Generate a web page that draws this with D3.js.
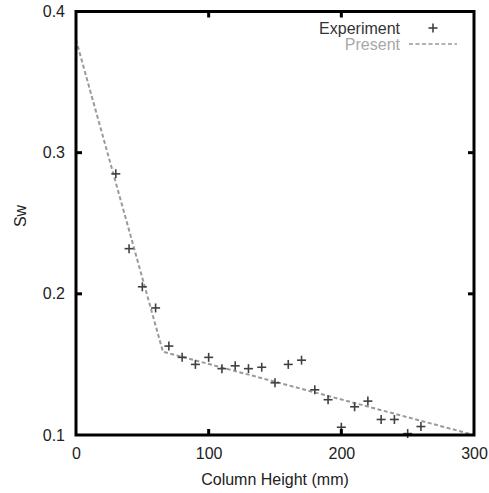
<!DOCTYPE html>
<html>
<head>
<meta charset="utf-8">
<script src="https://cdn.jsdelivr.net/npm/d3@7"></script>
<style>
  html, body { margin: 0; padding: 0; background: #fff; }
  svg { display: block; }
  text { font-family: "Liberation Sans", Arial, Helvetica, sans-serif; }
</style>
</head>
<body>
<svg id="chart" width="489" height="493"></svg>
<script>
// Experimental data: column height (mm) vs Sw
const expHeight = [30, 40, 50, 60, 70, 80, 90, 100, 110, 120, 130, 140, 150, 160, 170, 180, 190, 200, 210, 220, 230, 240, 250, 260];
const expSw     = [0.285, 0.232, 0.205, 0.190, 0.163, 0.155, 0.150, 0.155, 0.147, 0.149, 0.147, 0.148, 0.137, 0.150, 0.153, 0.132, 0.125, 0.1055, 0.120, 0.124, 0.111, 0.111, 0.101, 0.106];
// Present model (piecewise line)
const modelHeight = [0, 65.5, 300];
const modelSw     = [0.380, 0.159, 0.100];
// Ticks
const xTicks = [0, 100, 200, 300];
const yTicks = [0.1, 0.2, 0.3, 0.4];
const legendLabels = ["Experiment", "Present"];

const svg = d3.select("#chart");
const pLeft = 76, pRight = 474, pTop = 11.5, pBottom = 435;

const x = d3.scaleLinear().domain([0, 300]).range([pLeft, pRight]);
const y = d3.scaleLinear().domain([0.1, 0.4]).range([pBottom, pTop]);

const fontSize = 16;
const textColor = "#222";
const axisColor = "#000";

// Model line
const line = d3.line().x(d => x(d[0])).y(d => y(d[1]));
svg.append("path")
  .datum(modelHeight.map((h, i) => [h, modelSw[i]]))
  .attr("d", line)
  .attr("fill", "none")
  .attr("stroke", "#9a9a9a")
  .attr("stroke-width", 2)
  .attr("stroke-dasharray", "4,2.5");

// Experimental points (plus markers)
const pts = svg.append("g").attr("stroke", "#404040").attr("stroke-width", 1.6);
const s = 4.5;
expHeight.forEach((h, i) => {
  const cx = x(h), cy = y(expSw[i]);
  pts.append("line").attr("x1", cx - s).attr("x2", cx + s).attr("y1", cy).attr("y2", cy);
  pts.append("line").attr("x1", cx).attr("x2", cx).attr("y1", cy - s).attr("y2", cy + s);
});

// Axes with inward ticks (mirrored)
const tickLen = 6;
const xInner = xTicks.filter(t => t > 0 && t < 300);
const yInner = yTicks.filter(t => t > 0.1 && t < 0.4);

const ax = svg.append("g");
// Bottom axis
ax.append("g").attr("transform", `translate(0,${pBottom})`)
  .call(d3.axisBottom(x).tickValues(xTicks).tickSize(0).tickPadding(13).tickFormat(d3.format("d")))
  .call(g => g.select(".domain").remove())
  .call(g => g.selectAll("text").attr("font-size", fontSize).attr("fill", textColor).attr("font-family", "Liberation Sans, Arial, sans-serif"));
// Left axis
ax.append("g").attr("transform", `translate(${pLeft},0)`)
  .call(d3.axisLeft(y).tickValues(yTicks).tickSize(0).tickPadding(11).tickFormat(d3.format(".1f")))
  .call(g => g.select(".domain").remove())
  .call(g => g.selectAll("text").attr("font-size", fontSize).attr("fill", textColor).attr("font-family", "Liberation Sans, Arial, sans-serif"));

// tick marks
xInner.forEach(t => {
  ax.append("line").attr("x1", x(t)).attr("x2", x(t)).attr("y1", pBottom).attr("y2", pBottom - tickLen)
    .attr("stroke", axisColor).attr("stroke-width", 3);
  ax.append("line").attr("x1", x(t)).attr("x2", x(t)).attr("y1", pTop).attr("y2", pTop + tickLen)
    .attr("stroke", axisColor).attr("stroke-width", 3);
});
yInner.forEach(t => {
  ax.append("line").attr("x1", pLeft).attr("x2", pLeft + tickLen).attr("y1", y(t)).attr("y2", y(t))
    .attr("stroke", axisColor).attr("stroke-width", 3);
  ax.append("line").attr("x1", pRight).attr("x2", pRight - tickLen).attr("y1", y(t)).attr("y2", y(t))
    .attr("stroke", axisColor).attr("stroke-width", 3);
});

// Frame
svg.append("rect")
  .attr("x", pLeft).attr("y", pTop)
  .attr("width", pRight - pLeft).attr("height", pBottom - pTop)
  .attr("fill", "none").attr("stroke", axisColor).attr("stroke-width", 3);

// Axis labels
svg.append("text")
  .attr("x", (pLeft + pRight) / 2).attr("y", 485)
  .attr("text-anchor", "middle").attr("font-size", fontSize).attr("fill", textColor)
  .text("Column Height (mm)");
svg.append("text")
  .attr("transform", `translate(26,216) rotate(-90)`)
  .attr("text-anchor", "middle").attr("font-size", fontSize).attr("fill", textColor)
  .text("Sw");

// Legend
const lg = svg.append("g");
lg.append("text").attr("x", 400).attr("y", 33.5).attr("text-anchor", "end")
  .attr("font-size", fontSize).attr("fill", "#333").text(legendLabels[0]);
lg.append("line").attr("x1", 433 - s).attr("x2", 433 + s).attr("y1", 28).attr("y2", 28)
  .attr("stroke", "#404040").attr("stroke-width", 1.6);
lg.append("line").attr("x1", 433).attr("x2", 433).attr("y1", 28 - s).attr("y2", 28 + s)
  .attr("stroke", "#404040").attr("stroke-width", 1.6);
lg.append("text").attr("x", 400).attr("y", 49.5).attr("text-anchor", "end")
  .attr("font-size", fontSize).attr("fill", "#a8a8a8").text(legendLabels[1]);
lg.append("line").attr("x1", 409).attr("x2", 457).attr("y1", 44).attr("y2", 44)
  .attr("stroke", "#9a9a9a").attr("stroke-width", 1.6).attr("stroke-dasharray", "4,2.5");
</script>
</body>
</html>
